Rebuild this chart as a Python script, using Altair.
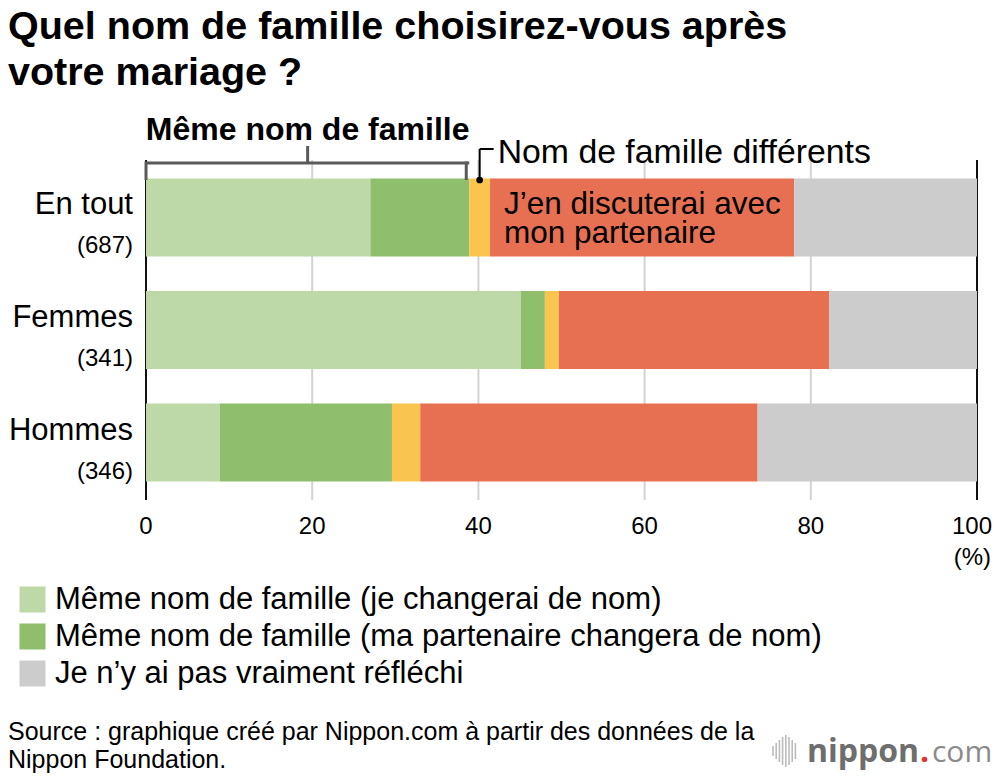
import altair as alt
import pandas as pd

# ---------------- data ----------------
groups = ["En tout", "Femmes", "Hommes"]
counts = ["(687)", "(341)", "(346)"]
categories = [
    "Même nom de famille (je changerai de nom)",
    "Même nom de famille (ma partenaire changera de nom)",
    "Nom de famille différents",
    "J’en discuterai avec mon partenaire",
    "Je n’y ai pas vraiment réfléchi",
]
colors = ["#BDD9A8", "#8FBF6C", "#F9C54E", "#E87052", "#CCCCCC"]
same_self = [27.0, 45.1, 8.9]
same_partner = [11.9, 2.9, 20.7]
different = [2.5, 1.7, 3.4]
discuss = [36.6, 32.5, 40.6]
not_thought = [22.0, 17.8, 26.4]
ticks = [0, 20, 40, 60, 80, 100]

title_lines = ["Quel nom de famille choisirez-vous après", "votre mariage ?"]
bracket_label = "Même nom de famille"
discuss_lines = ["J’en discuterai avec", "mon partenaire"]
source_lines = ["Source : graphique créé par Nippon.com à partir des données de la",
                "Nippon Foundation."]
unit_label = "(%)"

FONT = "Liberation Sans"

# ---------------- tables ----------------
series = [same_self, same_partner, different, discuss, not_thought]
rows = []
for gi, g in enumerate(groups):
    cum = 0.0
    for ci, cat in enumerate(categories):
        v = series[ci][gi]
        rows.append({"group": g, "category": cat, "order": ci,
                     "value": v, "start": cum, "end": cum + v})
        cum += v
bars_df = pd.DataFrame(rows)
labels_df = pd.DataFrame({"group": groups, "count": counts})
ticks_df = pd.DataFrame({"t": ticks})

g0 = groups[0]
ann_df = pd.DataFrame([{
    "group": g0,
    "b0": 0.0,
    "b1": same_self[0] + same_partner[0],
    "ymid": same_self[0] + same_partner[0] + different[0] / 2,
    "rstart": same_self[0] + same_partner[0] + different[0],
}])
ann_df["bmid"] = (ann_df["b0"] + ann_df["b1"]) / 2

yscale = alt.Scale(domain=groups, paddingInner=0.3067, paddingOuter=0.164)
xscale = alt.Scale(domain=[0, 100], nice=False)

# ---------------- layers ----------------
grid = alt.Chart(ticks_df).mark_rule(strokeWidth=2).encode(
    x=alt.X("t:Q", scale=xscale, axis=None),
    color=alt.condition("datum.t == 0 || datum.t == 100",
                        alt.value("#111111"), alt.value("#D3D3D3")),
)

# tick labels (last one nudged left so it stays inside the page)
tick_lbl = alt.Chart(ticks_df).transform_filter("datum.t < 100").mark_text(
    fontSize=24, font=FONT, color="#000", align="center", baseline="alphabetic"
).encode(x=alt.X("t:Q", scale=xscale, axis=None), y=alt.value(374), text="t:Q")
tick_lbl_last = alt.Chart(ticks_df).transform_filter("datum.t == 100").mark_text(
    fontSize=24, font=FONT, color="#000", align="center", baseline="alphabetic", dx=-5
).encode(x=alt.X("t:Q", scale=xscale, axis=None), y=alt.value(374), text="t:Q")

bars = alt.Chart(bars_df).mark_bar(opacity=1).encode(
    y=alt.Y("group:N", scale=yscale, axis=None, sort=groups),
    x=alt.X("start:Q", scale=xscale, axis=None),
    x2="end:Q",
    color=alt.Color("category:N",
                    scale=alt.Scale(domain=categories, range=colors),
                    legend=alt.Legend(
                        orient="none", legendX=-129, legendY=424,
                        values=[categories[0], categories[1], categories[4]],
                        title=None, padding=0,
                        labelFontSize=31, labelFont=FONT, labelColor="#000",
                        labelLimit=0, labelOffset=7,
                        symbolType="square", symbolSize=676,
                        symbolStrokeWidth=0, symbolOpacity=1, rowPadding=5)),
    order=alt.Order("order:Q"),
)

grp_text = alt.Chart(labels_df).mark_text(
    align="right", baseline="alphabetic", dy=-3, fontSize=31, font=FONT, color="#000"
).encode(y=alt.Y("group:N", scale=yscale, sort=groups), x=alt.value(-13), text="group:N")

cnt_text = alt.Chart(labels_df).mark_text(
    align="right", baseline="alphabetic", dy=36, fontSize=24, font=FONT, color="#000"
).encode(y=alt.Y("group:N", scale=yscale, sort=groups), x=alt.value(-13), text="count:N")

BR = "#5A5A5A"
ann = alt.Chart(ann_df)
br_h = ann.mark_rule(color=BR, strokeWidth=3).encode(
    x=alt.X("b0:Q", scale=xscale), x2="b1:Q", y=alt.value(3))
br_l = ann.mark_rule(color=BR, strokeWidth=3).encode(
    x=alt.X("b0:Q", scale=xscale), y=alt.value(1.5), y2=alt.value(20))
br_r = ann.mark_rule(color=BR, strokeWidth=3, xOffset=-3).encode(
    x=alt.X("b1:Q", scale=xscale), y=alt.value(1.5), y2=alt.value(20))
br_c = ann.mark_rule(color=BR, strokeWidth=3).encode(
    x=alt.X("bmid:Q", scale=xscale), y=alt.value(-14), y2=alt.value(3))
br_t = ann.mark_text(fontSize=32, fontWeight="bold", font=FONT, color="#000",
                     align="center", baseline="alphabetic").encode(
    x=alt.X("bmid:Q", scale=xscale), y=alt.value(-20), text=alt.value(bracket_label))

ld_v = ann.mark_rule(color="#000", strokeWidth=2).encode(
    x=alt.X("ymid:Q", scale=xscale), y=alt.value(-11), y2=alt.value(20))
ld_h = ann.mark_rule(color="#000", strokeWidth=2, x2Offset=14).encode(
    x=alt.X("ymid:Q", scale=xscale), x2="ymid:Q", y=alt.value(-11))
ld_dot = ann.mark_point(filled=True, color="#000", size=45, opacity=1).encode(
    x=alt.X("ymid:Q", scale=xscale), y=alt.value(20))
ld_t = ann.mark_text(fontSize=33.8, font=FONT, color="#000", align="left",
                     baseline="alphabetic", dx=18).encode(
    x=alt.X("ymid:Q", scale=xscale), y=alt.value(3), text=alt.value(categories[2]))

red1 = ann.mark_text(fontSize=31.5, font=FONT, color="#000", align="left",
                     baseline="alphabetic", dx=14, dy=-3).encode(
    x=alt.X("rstart:Q", scale=xscale), y=alt.Y("group:N", scale=yscale, sort=groups),
    text=alt.value(discuss_lines[0]))
red2 = ann.mark_text(fontSize=31.5, font=FONT, color="#000", align="left",
                     baseline="alphabetic", dx=14, dy=26).encode(
    x=alt.X("rstart:Q", scale=xscale), y=alt.Y("group:N", scale=yscale, sort=groups),
    text=alt.value(discuss_lines[1]))


def free_text(txt, x, y, size, weight="normal", align="left", color="#000", font=FONT):
    return alt.Chart(labels_df.head(1)).mark_text(
        fontSize=size, fontWeight=weight, font=font, color=color, align=align,
        baseline="alphabetic").encode(x=alt.value(x), y=alt.value(y), text=alt.value(txt))


extras = [
    free_text(title_lines[0], -138, -121, 39.5, "bold"),
    free_text(title_lines[1], -138, -75, 39.5, "bold"),
    free_text(unit_label, 845, 405, 24, align="right"),
    free_text(source_lines[0], -138, 580, 25),
    free_text(source_lines[1], -138, 608, 25),
    free_text("nippon", 661, 602, 32, "bold", color="#6E6E6E", font="Open Sans"),
    free_text(".", 774, 602, 32, "bold", color="#E8312F", font="Open Sans"),
    free_text("com", 786, 602, 30, "normal", color="#8A8A8A", font="Open Sans"),
]

# logo sound-wave bars (decoration)
logo_rules = []
for i, h in enumerate([5, 8, 11, 14, 16, 14, 11, 8]):
    logo_rules.append(alt.Chart(labels_df.head(1)).mark_rule(color="#BBBBBB", strokeWidth=1.6).encode(
        x=alt.value(627 + i * 3.2), y=alt.value(591 - h), y2=alt.value(591 + h)))

chart = alt.layer(
    grid, tick_lbl, tick_lbl_last, bars, grp_text, cnt_text,
    br_h, br_l, br_r, br_c, br_t,
    ld_v, ld_h, ld_dot, ld_t, red1, red2,
    *extras, *logo_rules,
).properties(
    width=831, height=340,
    autosize=alt.AutoSizeParams(type="none"),
    padding={"left": 138, "top": 152, "right": 15, "bottom": 274},
).configure_view(stroke=None)

chart.save("out.html", embed_options={"renderer": "svg", "actions": False})
